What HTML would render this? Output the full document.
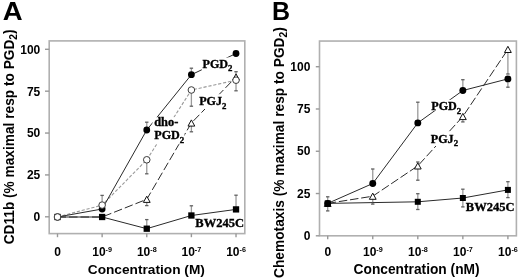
<!DOCTYPE html>
<html><head><meta charset="utf-8"><style>
html,body{margin:0;padding:0;background:#fff;width:520px;height:278px;overflow:hidden;}
svg{display:block;filter:grayscale(1) blur(0.3px);}
</style></head><body>
<svg width="520" height="278" viewBox="0 0 520 278">
<text transform="translate(2.8,20) scale(1.1,1)" font-family='"Liberation Sans", sans-serif' font-size="25" font-weight="bold">A</text>
<text x="272" y="20" font-family='"Liberation Sans", sans-serif' font-size="25" font-weight="bold" text-anchor="start" >B</text>
<rect x="49.2" y="40.9" width="195.60000000000002" height="192.7" fill="none" stroke="#b0b0b0" stroke-width="1.6"/>
<path d="M45 216.8 H49.2" stroke="#999" stroke-width="1.4"/>
<text x="40.3" y="221.20000000000002" font-family='"Liberation Sans", sans-serif' font-size="12" font-weight="bold" text-anchor="end" >0</text>
<path d="M45 174.925 H49.2" stroke="#999" stroke-width="1.4"/>
<text x="40.3" y="179.32500000000002" font-family='"Liberation Sans", sans-serif' font-size="12" font-weight="bold" text-anchor="end" >25</text>
<path d="M45 133.05 H49.2" stroke="#999" stroke-width="1.4"/>
<text x="40.3" y="137.45000000000002" font-family='"Liberation Sans", sans-serif' font-size="12" font-weight="bold" text-anchor="end" >50</text>
<path d="M45 91.17500000000001 H49.2" stroke="#999" stroke-width="1.4"/>
<text x="40.3" y="95.57500000000002" font-family='"Liberation Sans", sans-serif' font-size="12" font-weight="bold" text-anchor="end" >75</text>
<path d="M45 49.30000000000001 H49.2" stroke="#999" stroke-width="1.4"/>
<text x="40.3" y="53.70000000000001" font-family='"Liberation Sans", sans-serif' font-size="12" font-weight="bold" text-anchor="end" >100</text>
<path d="M57.5 233.6 V237.2" stroke="#999" stroke-width="1.4"/>
<path d="M102.13 233.6 V237.2" stroke="#999" stroke-width="1.4"/>
<path d="M146.76 233.6 V237.2" stroke="#999" stroke-width="1.4"/>
<path d="M191.39 233.6 V237.2" stroke="#999" stroke-width="1.4"/>
<path d="M236.02 233.6 V237.2" stroke="#999" stroke-width="1.4"/>
<text x="57.5" y="256.3" font-family='"Liberation Sans", sans-serif' font-size="12" font-weight="bold" text-anchor="middle" >0</text>
<text x="102.13" y="256.3" font-family='"Liberation Sans", sans-serif' font-size="12" font-weight="bold" text-anchor="middle" >10<tspan font-size="7.2" dy="-4">-9</tspan></text>
<text x="146.76" y="256.3" font-family='"Liberation Sans", sans-serif' font-size="12" font-weight="bold" text-anchor="middle" >10<tspan font-size="7.2" dy="-4">-8</tspan></text>
<text x="191.39" y="256.3" font-family='"Liberation Sans", sans-serif' font-size="12" font-weight="bold" text-anchor="middle" >10<tspan font-size="7.2" dy="-4">-7</tspan></text>
<text x="236.02" y="256.3" font-family='"Liberation Sans", sans-serif' font-size="12" font-weight="bold" text-anchor="middle" >10<tspan font-size="7.2" dy="-4">-6</tspan></text>
<text x="146.3" y="273.6" font-family='"Liberation Sans", sans-serif' font-size="13.7" font-weight="bold" text-anchor="middle" >Concentration (M)</text>
<text transform="translate(14.2,136.9) rotate(-90) scale(0.972,1)" font-family='"Liberation Sans", sans-serif' font-size="14.1" font-weight="bold" text-anchor="middle">CD11b (% maximal resp to PGD<tspan font-size="10.5" dy="3">2</tspan><tspan dy="-3">)</tspan></text>
<path d="M102.13 205.1 V195.4" stroke="#9a9a9a" stroke-width="1.3" fill="none"/>
<path d="M100.42999999999999 195.4 H103.83" stroke="#606060" stroke-width="1.3" fill="none"/>
<path d="M146.76 130 V122.2" stroke="#9a9a9a" stroke-width="1.3" fill="none"/>
<path d="M145.06 122.2 H148.45999999999998" stroke="#606060" stroke-width="1.3" fill="none"/>
<path d="M146.76 159.8 V173.8" stroke="#9a9a9a" stroke-width="1.3" fill="none"/>
<path d="M145.06 173.8 H148.45999999999998" stroke="#606060" stroke-width="1.3" fill="none"/>
<path d="M146.76 199.3 V205.6" stroke="#9a9a9a" stroke-width="1.3" fill="none"/>
<path d="M145.06 205.6 H148.45999999999998" stroke="#606060" stroke-width="1.3" fill="none"/>
<path d="M146.76 228.7 V219.6" stroke="#9a9a9a" stroke-width="1.3" fill="none"/>
<path d="M145.06 219.6 H148.45999999999998" stroke="#606060" stroke-width="1.3" fill="none"/>
<path d="M191.39 74.7 V68.2" stroke="#9a9a9a" stroke-width="1.3" fill="none"/>
<path d="M189.69 68.2 H193.08999999999997" stroke="#606060" stroke-width="1.3" fill="none"/>
<path d="M191.39 90 V106.2" stroke="#9a9a9a" stroke-width="1.3" fill="none"/>
<path d="M189.69 106.2 H193.08999999999997" stroke="#606060" stroke-width="1.3" fill="none"/>
<path d="M191.39 123 V131.8" stroke="#9a9a9a" stroke-width="1.3" fill="none"/>
<path d="M189.69 131.8 H193.08999999999997" stroke="#606060" stroke-width="1.3" fill="none"/>
<path d="M191.39 215.5 V205.8" stroke="#9a9a9a" stroke-width="1.3" fill="none"/>
<path d="M189.69 205.8 H193.08999999999997" stroke="#606060" stroke-width="1.3" fill="none"/>
<path d="M236.02 80.2 V71.7" stroke="#9a9a9a" stroke-width="1.3" fill="none"/>
<path d="M234.32000000000002 71.7 H237.72" stroke="#606060" stroke-width="1.3" fill="none"/>
<path d="M236.02 80.2 V90.8" stroke="#9a9a9a" stroke-width="1.3" fill="none"/>
<path d="M234.32000000000002 90.8 H237.72" stroke="#606060" stroke-width="1.3" fill="none"/>
<path d="M236.02 209.4 V195.2" stroke="#9a9a9a" stroke-width="1.3" fill="none"/>
<path d="M234.32000000000002 195.2 H237.72" stroke="#606060" stroke-width="1.3" fill="none"/>
<path d="M57.5 217 L102.13 205.1 L146.76 159.8 L191.39 90 L236.02 80.2" stroke="#999" stroke-width="1.1" fill="none" stroke-dasharray="3.2 1.8"/>
<path d="M57.5 217 L102.13 217 L146.76 199.3 L191.39 123 L236.02 77" stroke="#2a2a2a" stroke-width="1" fill="none" stroke-dasharray="8.5 3"/>
<path d="M57.5 217 L102.13 217 L146.76 228.7 L191.39 215.5 L236.02 209.4" stroke="#2a2a2a" stroke-width="1" fill="none"/>
<path d="M57.5 217 L102.13 209 L146.76 130 L191.39 74.7 L236.02 53.5" stroke="#2a2a2a" stroke-width="1" fill="none"/>
<rect x="152.5" y="117.2" width="27" height="27" fill="#fff"/>
<rect x="179.5" y="134" width="5" height="10" fill="#fff"/>
<rect x="201.8" y="57.5" width="31.4" height="14" fill="#fff"/>
<rect x="198.4" y="94.2" width="30.3" height="14.8" fill="#fff"/>
<text x="154.2" y="126.3" font-family='"Liberation Serif", serif' font-size="12.4" font-weight="bold" text-anchor="start" stroke="#000" stroke-width="0.35">dho-</text>
<text x="154.3" y="138.9" font-family='"Liberation Serif", serif' font-size="12.1" font-weight="bold" text-anchor="start" stroke="#000" stroke-width="0.35">PGD<tspan font-size="8.8" dy="3.6">2</tspan></text>
<text x="202.5" y="67.8" font-family='"Liberation Serif", serif' font-size="12.1" font-weight="bold" text-anchor="start" stroke="#000" stroke-width="0.35">PGD<tspan font-size="8.8" dy="3.6">2</tspan></text>
<text x="199.2" y="105.3" font-family='"Liberation Serif", serif' font-size="12.1" font-weight="bold" text-anchor="start" stroke="#000" stroke-width="0.35">PGJ<tspan font-size="8.8" dy="3.6">2</tspan></text>
<text x="195.3" y="226.7" font-family='"Liberation Serif", serif' font-size="12.5" font-weight="bold" text-anchor="start" stroke="#000" stroke-width="0.35">BW245C</text>
<path d="M146.76 196.20000000000002 L150.16 202.4 L143.35999999999999 202.4 Z" fill="#fff" stroke="#111" stroke-width="1"/>
<path d="M191.39 119.9 L194.79 126.1 L187.98999999999998 126.1 Z" fill="#fff" stroke="#111" stroke-width="1"/>
<path d="M236.02 73.9 L239.42000000000002 80.1 L232.62 80.1 Z" fill="#fff" stroke="#111" stroke-width="1"/>
<rect x="54.35" y="213.85" width="6.3" height="6.3" fill="#000"/>
<rect x="98.97999999999999" y="213.85" width="6.3" height="6.3" fill="#000"/>
<rect x="143.60999999999999" y="225.54999999999998" width="6.3" height="6.3" fill="#000"/>
<rect x="188.23999999999998" y="212.35" width="6.3" height="6.3" fill="#000"/>
<rect x="232.87" y="206.25" width="6.3" height="6.3" fill="#000"/>
<circle cx="57.5" cy="217" r="3.4" fill="#000" stroke="none" stroke-width="0"/>
<circle cx="102.13" cy="209" r="3.4" fill="#000" stroke="none" stroke-width="0"/>
<circle cx="146.76" cy="130" r="3.4" fill="#000" stroke="none" stroke-width="0"/>
<circle cx="191.39" cy="74.7" r="3.4" fill="#000" stroke="none" stroke-width="0"/>
<circle cx="236.02" cy="53.5" r="3.4" fill="#000" stroke="none" stroke-width="0"/>
<circle cx="57.5" cy="217" r="3.3" fill="#fff" stroke="#3a3a3a" stroke-width="1"/>
<circle cx="102.13" cy="205.1" r="3.3" fill="#fff" stroke="#3a3a3a" stroke-width="1"/>
<circle cx="146.76" cy="159.8" r="3.3" fill="#fff" stroke="#3a3a3a" stroke-width="1"/>
<circle cx="191.39" cy="90" r="3.3" fill="#fff" stroke="#3a3a3a" stroke-width="1"/>
<circle cx="236.02" cy="80.2" r="3.3" fill="#fff" stroke="#3a3a3a" stroke-width="1"/>
<rect x="319.5" y="41.05" width="196.89999999999998" height="194.75" fill="none" stroke="#b0b0b0" stroke-width="1.6"/>
<path d="M315.8 235.8 H319.5" stroke="#999" stroke-width="1.4"/>
<text x="310.4" y="240.0" font-family='"Liberation Sans", sans-serif' font-size="12" font-weight="bold" text-anchor="end" >0</text>
<path d="M315.8 193.53 H319.5" stroke="#999" stroke-width="1.4"/>
<text x="310.4" y="197.73" font-family='"Liberation Sans", sans-serif' font-size="12" font-weight="bold" text-anchor="end" >25</text>
<path d="M315.8 151.26 H319.5" stroke="#999" stroke-width="1.4"/>
<text x="310.4" y="155.45999999999998" font-family='"Liberation Sans", sans-serif' font-size="12" font-weight="bold" text-anchor="end" >50</text>
<path d="M315.8 108.99000000000001 H319.5" stroke="#999" stroke-width="1.4"/>
<text x="310.4" y="113.19000000000001" font-family='"Liberation Sans", sans-serif' font-size="12" font-weight="bold" text-anchor="end" >75</text>
<path d="M315.8 66.72 H319.5" stroke="#999" stroke-width="1.4"/>
<text x="310.4" y="70.92" font-family='"Liberation Sans", sans-serif' font-size="12" font-weight="bold" text-anchor="end" >100</text>
<path d="M327.7 235.8 V239.2" stroke="#999" stroke-width="1.4"/>
<path d="M372.75 235.8 V239.2" stroke="#999" stroke-width="1.4"/>
<path d="M417.8 235.8 V239.2" stroke="#999" stroke-width="1.4"/>
<path d="M462.85 235.8 V239.2" stroke="#999" stroke-width="1.4"/>
<path d="M507.9 235.8 V239.2" stroke="#999" stroke-width="1.4"/>
<text x="327.8" y="256.4" font-family='"Liberation Sans", sans-serif' font-size="12" font-weight="bold" text-anchor="middle" >0</text>
<text x="372.85" y="256.4" font-family='"Liberation Sans", sans-serif' font-size="12" font-weight="bold" text-anchor="middle" >10<tspan font-size="7.2" dy="-4">-9</tspan></text>
<text x="417.90000000000003" y="256.4" font-family='"Liberation Sans", sans-serif' font-size="12" font-weight="bold" text-anchor="middle" >10<tspan font-size="7.2" dy="-4">-8</tspan></text>
<text x="462.95000000000005" y="256.4" font-family='"Liberation Sans", sans-serif' font-size="12" font-weight="bold" text-anchor="middle" >10<tspan font-size="7.2" dy="-4">-7</tspan></text>
<text x="508.0" y="256.4" font-family='"Liberation Sans", sans-serif' font-size="12" font-weight="bold" text-anchor="middle" >10<tspan font-size="7.2" dy="-4">-6</tspan></text>
<text x="416.6" y="273.6" font-family='"Liberation Sans", sans-serif' font-size="13.75" font-weight="bold" text-anchor="middle" >Concentration (nM)</text>
<text transform="translate(284.1,152.6) rotate(-90) scale(0.968,1)" font-family='"Liberation Sans", sans-serif' font-size="14.2" font-weight="bold" text-anchor="middle">Chemotaxis (% maximal resp to PGD<tspan font-size="10.5" dy="3">2</tspan><tspan dy="-3">)</tspan></text>
<path d="M327.7 203.4 V196.8" stroke="#9a9a9a" stroke-width="1.3" fill="none"/>
<path d="M326.0 196.8 H329.4" stroke="#606060" stroke-width="1.3" fill="none"/>
<path d="M327.7 203.4 V210.9" stroke="#9a9a9a" stroke-width="1.3" fill="none"/>
<path d="M326.0 210.9 H329.4" stroke="#606060" stroke-width="1.3" fill="none"/>
<path d="M372.75 183.5 V169" stroke="#9a9a9a" stroke-width="1.3" fill="none"/>
<path d="M371.05 169 H374.45" stroke="#606060" stroke-width="1.3" fill="none"/>
<path d="M372.75 196.2 V204.1" stroke="#9a9a9a" stroke-width="1.3" fill="none"/>
<path d="M371.05 204.1 H374.45" stroke="#606060" stroke-width="1.3" fill="none"/>
<path d="M417.8 122.9 V102.2" stroke="#9a9a9a" stroke-width="1.3" fill="none"/>
<path d="M416.1 102.2 H419.5" stroke="#606060" stroke-width="1.3" fill="none"/>
<path d="M417.8 165.9 V162" stroke="#9a9a9a" stroke-width="1.3" fill="none"/>
<path d="M416.1 162 H419.5" stroke="#606060" stroke-width="1.3" fill="none"/>
<path d="M417.8 165.9 V180.2" stroke="#9a9a9a" stroke-width="1.3" fill="none"/>
<path d="M416.1 180.2 H419.5" stroke="#606060" stroke-width="1.3" fill="none"/>
<path d="M417.8 201.8 V193.7" stroke="#9a9a9a" stroke-width="1.3" fill="none"/>
<path d="M416.1 193.7 H419.5" stroke="#606060" stroke-width="1.3" fill="none"/>
<path d="M417.8 201.8 V209.5" stroke="#9a9a9a" stroke-width="1.3" fill="none"/>
<path d="M416.1 209.5 H419.5" stroke="#606060" stroke-width="1.3" fill="none"/>
<path d="M462.85 90.5 V79.7" stroke="#9a9a9a" stroke-width="1.3" fill="none"/>
<path d="M461.15000000000003 79.7 H464.55" stroke="#606060" stroke-width="1.3" fill="none"/>
<path d="M462.85 116 V121.9" stroke="#9a9a9a" stroke-width="1.3" fill="none"/>
<path d="M461.15000000000003 121.9 H464.55" stroke="#606060" stroke-width="1.3" fill="none"/>
<path d="M462.85 198 V189.2" stroke="#9a9a9a" stroke-width="1.3" fill="none"/>
<path d="M461.15000000000003 189.2 H464.55" stroke="#606060" stroke-width="1.3" fill="none"/>
<path d="M462.85 198 V206.9" stroke="#9a9a9a" stroke-width="1.3" fill="none"/>
<path d="M461.15000000000003 206.9 H464.55" stroke="#606060" stroke-width="1.3" fill="none"/>
<path d="M507.9 49.5 V74" stroke="#9a9a9a" stroke-width="1.3" fill="none"/>
<path d="M506.2 74 H509.59999999999997" stroke="#606060" stroke-width="1.3" fill="none"/>
<path d="M507.9 78.9 V87.2" stroke="#9a9a9a" stroke-width="1.3" fill="none"/>
<path d="M506.2 87.2 H509.59999999999997" stroke="#606060" stroke-width="1.3" fill="none"/>
<path d="M507.9 189.9 V181.7" stroke="#9a9a9a" stroke-width="1.3" fill="none"/>
<path d="M506.2 181.7 H509.59999999999997" stroke="#606060" stroke-width="1.3" fill="none"/>
<path d="M507.9 189.9 V197.6" stroke="#9a9a9a" stroke-width="1.3" fill="none"/>
<path d="M506.2 197.6 H509.59999999999997" stroke="#606060" stroke-width="1.3" fill="none"/>
<path d="M327.7 203.4 L372.75 196.2 L417.8 165.9 L462.85 116.5 L507.9 49.4" stroke="#2a2a2a" stroke-width="1" fill="none" stroke-dasharray="8.5 2.8"/>
<path d="M327.7 203.4 L372.75 202.6 L417.8 201.8 L462.85 198 L507.9 189.9" stroke="#2a2a2a" stroke-width="1" fill="none"/>
<path d="M327.7 203.4 L372.75 183.5 L417.8 122.9 L462.85 90.5 L507.9 78.9" stroke="#2a2a2a" stroke-width="1" fill="none"/>
<rect x="430.5" y="99.8" width="26" height="10.8" fill="#fff"/>
<rect x="456.5" y="105.5" width="5.2" height="8.8" fill="#fff"/>
<rect x="430" y="132.2" width="29.5" height="13.8" fill="#fff"/>
<text x="431.3" y="110.2" font-family='"Liberation Serif", serif' font-size="12.1" font-weight="bold" text-anchor="start" stroke="#000" stroke-width="0.35">PGD<tspan font-size="8.8" dy="3.6">2</tspan></text>
<text x="430.8" y="142.8" font-family='"Liberation Serif", serif' font-size="12.1" font-weight="bold" text-anchor="start" stroke="#000" stroke-width="0.35">PGJ<tspan font-size="8.8" dy="3.6">2</tspan></text>
<text x="465.8" y="211.4" font-family='"Liberation Serif", serif' font-size="12.5" font-weight="bold" text-anchor="start" stroke="#000" stroke-width="0.35">BW245C</text>
<path d="M327.7 200.3 L331.09999999999997 206.5 L324.3 206.5 Z" fill="#fff" stroke="#111" stroke-width="1"/>
<path d="M372.75 193.1 L376.15 199.29999999999998 L369.35 199.29999999999998 Z" fill="#fff" stroke="#111" stroke-width="1"/>
<path d="M417.8 162.8 L421.2 169.0 L414.40000000000003 169.0 Z" fill="#fff" stroke="#111" stroke-width="1"/>
<path d="M462.85 113.4 L466.25 119.6 L459.45000000000005 119.6 Z" fill="#fff" stroke="#111" stroke-width="1"/>
<path d="M507.9 46.3 L511.29999999999995 52.5 L504.5 52.5 Z" fill="#fff" stroke="#111" stroke-width="1"/>
<rect x="324.7" y="200.4" width="6" height="6" fill="#000"/>
<rect x="414.8" y="198.8" width="6" height="6" fill="#000"/>
<rect x="459.85" y="195.0" width="6" height="6" fill="#000"/>
<rect x="504.9" y="186.9" width="6" height="6" fill="#000"/>
<circle cx="327.7" cy="203.4" r="3.45" fill="#000" stroke="none" stroke-width="0"/>
<circle cx="372.75" cy="183.5" r="3.45" fill="#000" stroke="none" stroke-width="0"/>
<circle cx="417.8" cy="122.9" r="3.45" fill="#000" stroke="none" stroke-width="0"/>
<circle cx="462.85" cy="90.5" r="3.45" fill="#000" stroke="none" stroke-width="0"/>
<circle cx="507.9" cy="78.9" r="3.45" fill="#000" stroke="none" stroke-width="0"/>
</svg>
</body></html>
